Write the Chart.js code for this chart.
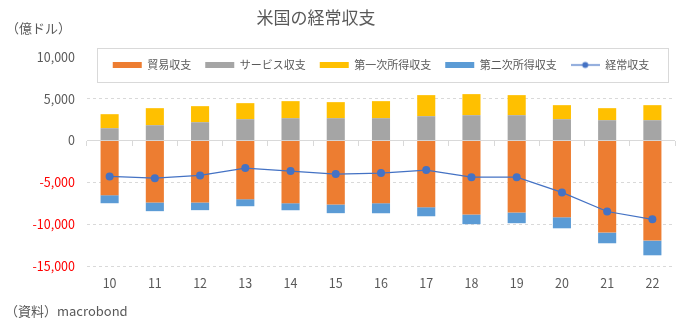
<!DOCTYPE html>
<html lang="ja">
<head>
<meta charset="utf-8">
<title>米国の経常収支</title>
<script src="https://cdn.jsdelivr.net/npm/chart.js@4.4.0/dist/chart.umd.min.js"></script>
<style>
  html, body { margin: 0; padding: 0; background: #fff; }
</style>
</head>
<body>
<canvas id="chart" width="690" height="334"></canvas>
<script>
// --- データ (億ドル) ---
const years = ['10', '11', '12', '13', '14', '15', '16', '17', '18', '19', '20', '21', '22'];
const trade = [-6530, -7400, -7400, -7010, -7490, -7640, -7490, -7970, -8840, -8600, -9170, -11000, -11960];
const services = [1480, 1840, 2200, 2560, 2680, 2680, 2680, 2920, 3040, 3040, 2560, 2440, 2440];
const primaryIncome = [1680, 2040, 1920, 1920, 2040, 1920, 2040, 2520, 2520, 2400, 1680, 1440, 1800];
const secondaryIncome = [-960, -1040, -920, -840, -840, -1040, -1200, -1080, -1160, -1280, -1320, -1280, -1760];
const currentAccount = [-4280, -4490, -4160, -3290, -3650, -4010, -3890, -3530, -4370, -4370, -6200, -8480, -9410];
const yTicks = [-15000, -10000, -5000, 0, 5000, 10000];

const FONT = "'Noto Sans CJK JP', 'Noto Sans', sans-serif";
const GREY_TEXT = '#595959';
const GRID = '#D9D9D9';

Chart.defaults.font.family = FONT;
Chart.defaults.color = GREY_TEXT;

// 凡例用の「線＋マーカー」アイコン
const lineIcon = document.createElement('canvas');
lineIcon.width = 29;
lineIcon.height = 9;
(function () {
    const c = lineIcon.getContext('2d');
    c.strokeStyle = '#4472C4';
    c.lineWidth = 1.25;
    c.beginPath();
    c.moveTo(0, 4.5);
    c.lineTo(29, 4.5);
    c.stroke();
    c.fillStyle = '#4472C4';
    c.beginPath();
    c.arc(14.5, 4.5, 3, 0, Math.PI * 2);
    c.fill();
})();

// 凡例をプロット内の枠に置く
const legendBox = {
    id: 'legendBox',
    beforeLayout(chart) {
        const lg = chart.legend;
        if (!lg || lg._patched) return;
        lg._patched = true;
        const fit = lg.fit;
        lg.fit = function () { fit.call(this); this.height = 0; };
        const draw = lg.draw;
        lg.draw = function () {
            const a = chart.chartArea;
            const c = chart.ctx;
            c.save();
            c.fillStyle = '#fff';
            c.fillRect(a.left + 10, 48, a.right - a.left - 16, 34);
            c.strokeStyle = GRID;
            c.lineWidth = 1;
            c.strokeRect(a.left + 10.5, 48.5, a.right - a.left - 17, 34);
            c.restore();
            draw.call(this);
        };
    },
    afterLayout(chart) {
        const lg = chart.legend;
        const pad = lg.options.labels.padding;
        lg.top = 65 - 5.5 - pad;
        lg.bottom = lg.top + 11 + pad * 2;
        lg.height = lg.bottom - lg.top;
    }
};

// タイトル・単位・出所
const notes = {
    id: 'notes',
    afterDraw(chart) {
        const c = chart.ctx;
        c.save();
        c.fillStyle = GREY_TEXT;
        c.textBaseline = 'middle';
        c.textAlign = 'center';
        c.font = `17px ${FONT}`;
        c.fillText('米国の経常収支', 316, 18);
        c.textAlign = 'left';
        c.font = `13px ${FONT}`;
        c.fillText('（億ドル）', 6, 28);
        c.fillText('（資料）macrobond', 5, 311);
        c.restore();
    }
};

new Chart(document.getElementById('chart'), {
    type: 'bar',
    data: {
        labels: years,
        datasets: [
            { label: '貿易収支', data: trade, backgroundColor: '#ED7D31', pointStyle: 'rect', order: 1 },
            { label: 'サービス収支', data: services, backgroundColor: '#A5A5A5', pointStyle: 'rect', order: 1 },
            { label: '第一次所得収支', data: primaryIncome, backgroundColor: '#FFC000', pointStyle: 'rect', order: 1 },
            { label: '第二次所得収支', data: secondaryIncome, backgroundColor: '#5B9BD5', pointStyle: 'rect', order: 1 },
            {
                type: 'line', label: '経常収支', data: currentAccount,
                borderColor: '#4472C4', backgroundColor: '#4472C4', borderWidth: 1.25,
                pointRadius: 4, pointBorderWidth: 0, pointBackgroundColor: '#4472C4',
                tension: 0, order: 0
            }
        ]
    },
    options: {
        responsive: false,
        animation: false,
        devicePixelRatio: 1,
        layout: { padding: { top: 57, right: 15, bottom: 0, left: 0 } },
        datasets: { bar: { barPercentage: 0.4, categoryPercentage: 1.0, borderWidth: 0 } },
        scales: {
            x: {
                stacked: true,
                grid: { display: false, drawTicks: false },
                border: { display: false },
                ticks: { color: GREY_TEXT, font: { size: 12.5 }, padding: 10 },
                afterFit: s => { s.height = 68; }
            },
            // ゼロ線の目盛り
            x2: {
                type: 'category',
                axis: 'x',
                labels: years,
                position: { y: 0 },
                offset: true,
                grid: { offset: true, drawOnChartArea: false, drawTicks: true, tickLength: 5, color: GRID },
                ticks: { display: false },
                border: { display: false }
            },
            y: {
                stacked: true,
                min: -15000,
                max: 10000,
                afterBuildTicks: s => { s.ticks = yTicks.map(v => ({ value: v })); },
                ticks: {
                    font: { size: 12.5 },
                    padding: 12,
                    color: c => (c.tick.value < 0 ? '#FF0000' : GREY_TEXT)
                },
                grid: {
                    drawTicks: false,
                    lineWidth: 1,
                    color: c => (c.tick && c.tick.value === 10000 ? 'rgba(0,0,0,0)' : GRID)
                },
                border: {
                    display: false,
                    dash: c => (c.tick && c.tick.value === 0 ? [] : [3, 3])
                },
                afterFit: s => { s.width = 87; }
            }
        },
        plugins: {
            title: { display: false },
            tooltip: { enabled: false },
            legend: {
                position: 'top',
                fullSize: false,
                labels: {
                    color: GREY_TEXT,
                    font: { size: 11 },
                    usePointStyle: true,
                    pointStyleWidth: 29,
                    boxHeight: 6,
                    padding: 14,
                    sort: (a, b) => a.datasetIndex - b.datasetIndex,
                    generateLabels(chart) {
                        const items = Chart.defaults.plugins.legend.labels.generateLabels(chart);
                        items.forEach(it => {
                            if (chart.data.datasets[it.datasetIndex].type === 'line') it.pointStyle = lineIcon;
                        });
                        return items;
                    }
                }
            }
        }
    },
    plugins: [legendBox, notes]
});
</script>
</body>
</html>
